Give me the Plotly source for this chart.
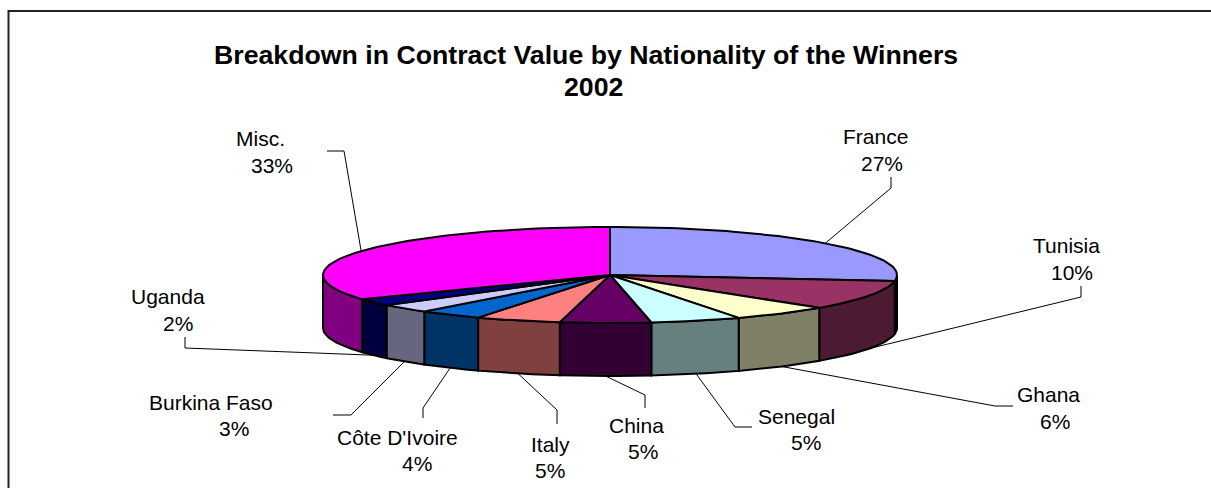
import math
import plotly.graph_objects as go

categories = ["France", "Tunisia", "Ghana", "Senegal", "China", "Italy",
              "Côte D'Ivoire", "Burkina Faso", "Uganda", "Misc."]
values = [27.0, 10.0, 5.6, 5.1, 5.1, 4.8, 3.6, 3.0, 2.4, 33.4]
top_colors = ["#9999FF", "#993366", "#FFFFCC", "#CCFFFF", "#660066", "#FF8080",
              "#0066CC", "#CCCCFF", "#000080", "#FF00FF"]
side_colors = ["#4D4D80", "#4D1A33", "#808066", "#668080", "#330033", "#804040",
               "#003366", "#666680", "#000040", "#800080"]
pct_labels = ["27%", "10%", "6%", "5%", "5%", "5%", "4%", "3%", "2%", "33%"]
title_lines = ["Breakdown in Contract Value by Nationality of the Winners", "2002"]

# layout of the pie in page pixels
CX, CY, RX, RY, DEPTH = 610, 275, 287, 48, 53
FONT = "Liberation Sans, Arial, sans-serif"

# label centres (name, percent) and the leader bends
name_pos = [(875, 136), (1066, 245), (1048, 394), (796, 416), (636, 425),
            (550, 444), (397, 437), (211, 402), (168, 296), (260, 138)]
pct_pos = [(882, 163), (1072, 272), (1055, 421), (806, 442), (643, 451),
           (550, 470), (417, 463), (234, 428), (178, 323), (272, 165)]
leader_bends = [[(891, 188), (891, 177)],
                [(1081, 297), (1081, 286)],
                [(995, 406), (1013, 406)],
                [(735, 427), (752, 427)],
                [(645, 395), (645, 408)],
                [(557, 410), (557, 424)],
                [(423, 408), (423, 418)],
                [(351, 415), (333, 415)],
                [(185, 348), (185, 337)],
                [(344, 151), (327, 151)]]


def rim(theta_deg, drop=0.0):
    t = math.radians(theta_deg)
    return CX + RX * math.sin(t), CY - RY * math.cos(t) + drop


def arc(a, b):
    n = max(2, int(abs(b - a) / 1.5) + 1)
    return [a + (b - a) * i / n for i in range(n + 1)]


total = sum(values)
edges = [0.0]
for v in values:
    edges.append(edges[-1] + v / total * 360)

fig = go.Figure()

# visible outer walls (front half only)
for i, c in enumerate(categories):
    a, b = max(edges[i], 90), min(edges[i + 1], 270)
    if a >= b:
        continue
    ang = arc(a, b)
    pts = [rim(t) for t in ang] + [rim(t, DEPTH) for t in reversed(ang)]
    pts.append(pts[0])
    fig.add_trace(go.Scatter(x=[p[0] for p in pts], y=[p[1] for p in pts], mode="lines",
                             fill="toself", fillcolor=side_colors[i],
                             line=dict(color="#000000", width=2), hoverinfo="skip",
                             name=c + " side", showlegend=False))

# top faces
for i, c in enumerate(categories):
    ang = arc(edges[i], edges[i + 1])
    pts = [(CX, CY)] + [rim(t) for t in ang] + [(CX, CY)]
    fig.add_trace(go.Scatter(x=[p[0] for p in pts], y=[p[1] for p in pts], mode="lines",
                             fill="toself", fillcolor=top_colors[i],
                             line=dict(color="#000000", width=2),
                             name=c, showlegend=False, hoverinfo="name"))

# leaders, starting on the rim at each slice's mid-angle
for i, c in enumerate(categories):
    mid = (edges[i] + edges[i + 1]) / 2
    front = 90 < mid < 270
    start = rim(mid, DEPTH if front else 0)
    pts = [start] + leader_bends[i]
    fig.add_trace(go.Scatter(x=[p[0] for p in pts], y=[p[1] for p in pts], mode="lines",
                             line=dict(color="#000000", width=1), hoverinfo="skip",
                             showlegend=False))

annotations = []
for i, c in enumerate(categories):
    for txt, pos in ((c, name_pos[i]), (pct_labels[i], pct_pos[i])):
        annotations.append(dict(x=pos[0], y=pos[1], text=txt, showarrow=False,
                                xref="x", yref="y", xanchor="center", yanchor="middle",
                                font=dict(family=FONT, size=21, color="#000000")))
annotations.append(dict(x=586, y=55, text="<b>%s</b>" % title_lines[0], showarrow=False,
                        xref="x", yref="y", font=dict(family=FONT, size=26.7, color="#000000")))
annotations.append(dict(x=593, y=87, text="<b>%s</b>" % title_lines[1], showarrow=False,
                        xref="x", yref="y", font=dict(family=FONT, size=26.7, color="#000000")))

fig.update_layout(
    width=1211, height=488, margin=dict(l=0, r=0, t=0, b=0),
    paper_bgcolor="#FFFFFF", plot_bgcolor="#FFFFFF", showlegend=False,
    xaxis=dict(range=[0, 1211], visible=False, fixedrange=True),
    yaxis=dict(range=[488, 0], visible=False, fixedrange=True),
    annotations=annotations,
    shapes=[dict(type="rect", xref="x", yref="y", x0=8.5, y0=11, x1=1400, y1=600,
                 line=dict(color="#222222", width=2))],
)
fig.write_html("out.html", config={"displayModeBar": False},
               post_script="document.body.style.margin='0';document.body.style.overflow='hidden';")
